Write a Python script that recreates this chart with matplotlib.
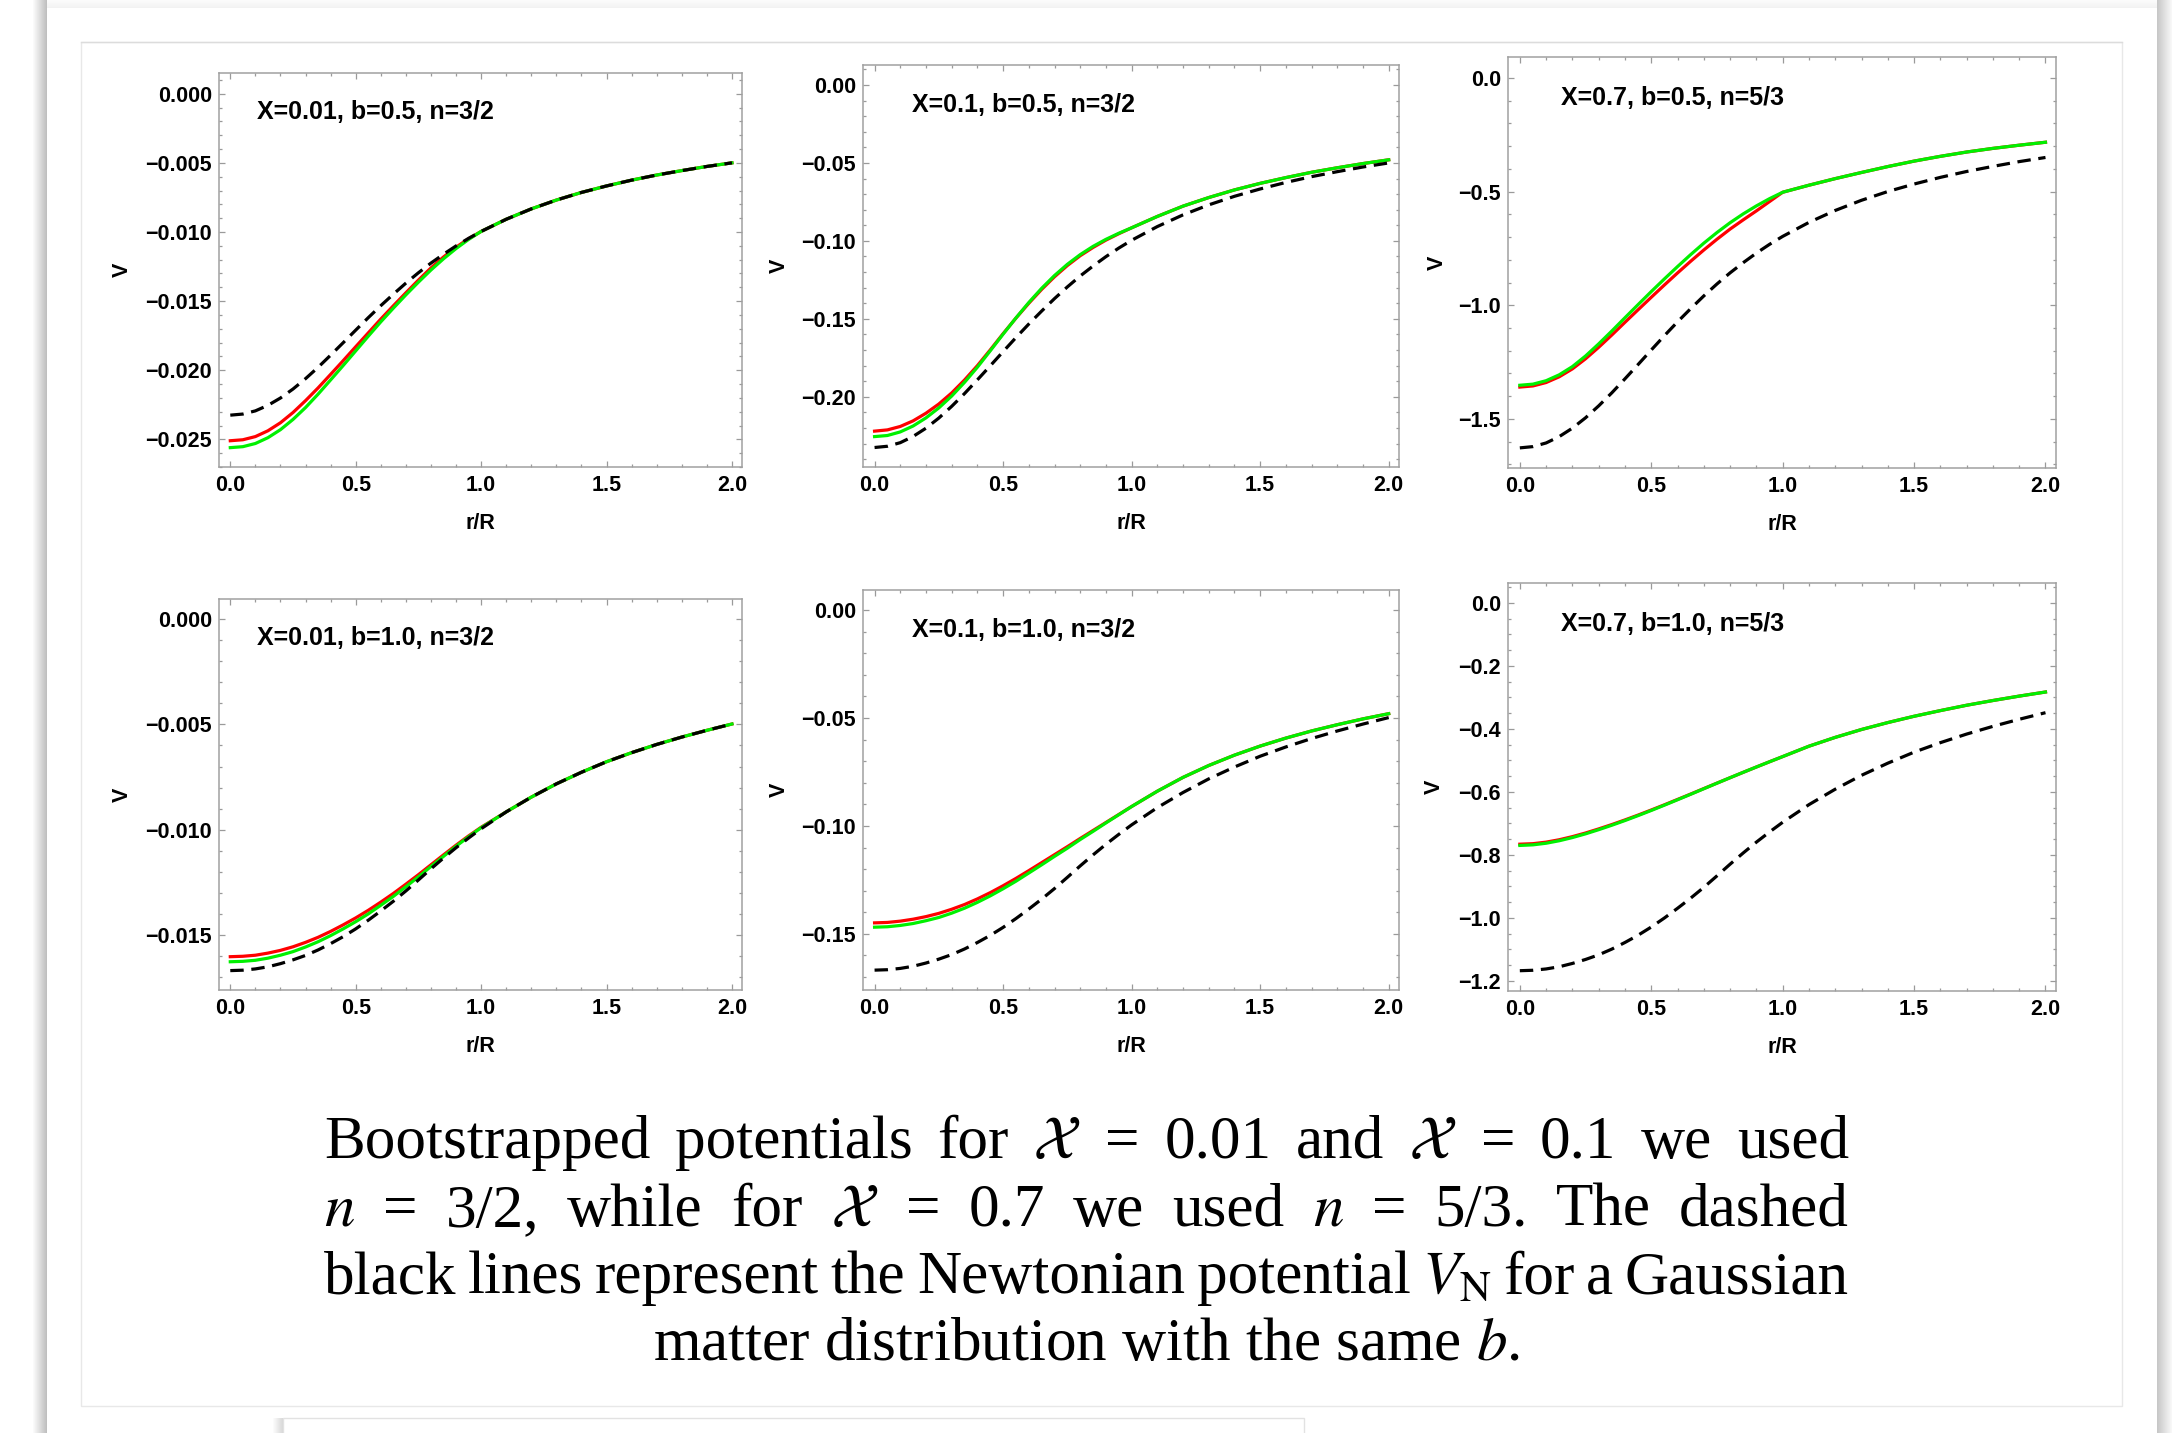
import matplotlib
matplotlib.use("Agg")
import matplotlib.pyplot as plt
from matplotlib.patches import Rectangle
from matplotlib.ticker import MultipleLocator

plt.rcParams['font.family'] = ['Liberation Sans', 'DejaVu Sans']
plt.rcParams['mathtext.fontset'] = 'stix'

W, H = 2172, 1433

# radial coordinate r/R (finer inside the source)
r_vals = [0.0, 0.05, 0.1, 0.15, 0.2, 0.25, 0.3, 0.35, 0.4, 0.45, 0.5,
          0.55, 0.6, 0.65, 0.7, 0.75, 0.8, 0.85, 0.9, 0.95, 1.0,
          1.1, 1.2, 1.3, 1.4, 1.5, 1.6, 1.7, 1.8, 1.9, 2.0]

# X=0.01, b=0.5, n=3/2
red_a = [-0.0251, -0.02503, -0.0248, -0.02438, -0.0238, -0.02306, -0.0222, -0.02128, -0.0203, -0.01931, -0.0183,
         -0.01730, -0.0163, -0.01534, -0.0144, -0.01348, -0.0126, -0.01181, -0.0111, -0.01049, -0.00996,
         -0.00908, -0.00833, -0.00769, -0.00714, -0.00667, -0.00625, -0.00588, -0.00556, -0.00526, -0.00500]
green_a = [-0.0256, -0.02553, -0.0253, -0.02488, -0.0243, -0.02356, -0.0227, -0.02173, -0.0207, -0.01966, -0.0186,
           -0.01754, -0.0165, -0.01551, -0.01455, -0.01363, -0.01275, -0.01194, -0.0112, -0.01054, -0.00996,
           -0.00908, -0.00833, -0.00769, -0.00714, -0.00667, -0.00625, -0.00588, -0.00556, -0.00526, -0.00500]
newton_a = [-0.02325, -0.02317, -0.02294, -0.02254, -0.02201, -0.02136, -0.02061, -0.01979, -0.01891, -0.01801, -0.01710,
            -0.01620, -0.01533, -0.01450, -0.01370, -0.01295, -0.01225, -0.01161, -0.01101, -0.01046, -0.00996,
            -0.00908, -0.00833, -0.00769, -0.00714, -0.00667, -0.00625, -0.00588, -0.00556, -0.00526, -0.00500]

# X=0.1, b=0.5, n=3/2
red_b = [-0.2220, -0.2212, -0.2190, -0.2154, -0.2105, -0.2046, -0.1975, -0.1892, -0.1800, -0.1699, -0.1595,
         -0.1495, -0.1400, -0.1311, -0.1230, -0.1158, -0.1095, -0.1042, -0.0995, -0.0954, -0.0916,
         -0.0843, -0.0777, -0.0722, -0.0673, -0.0631, -0.0594, -0.0560, -0.0531, -0.0504, -0.0480]
green_b = [-0.2255, -0.2248, -0.2225, -0.2187, -0.2135, -0.2071, -0.1995, -0.1907, -0.1810, -0.1705, -0.1598,
           -0.1494, -0.1395, -0.1304, -0.1222, -0.1150, -0.1088, -0.1035, -0.0990, -0.0951, -0.0916,
           -0.0843, -0.0777, -0.0722, -0.0673, -0.0631, -0.0594, -0.0560, -0.0531, -0.0504, -0.0480]
newton_b = [-0.2325, -0.2317, -0.2294, -0.2254, -0.2201, -0.2136, -0.2061, -0.1979, -0.1891, -0.1801, -0.1710,
            -0.1620, -0.1533, -0.1450, -0.1370, -0.1295, -0.1225, -0.1161, -0.1101, -0.1046, -0.0996,
            -0.0908, -0.0833, -0.0769, -0.0714, -0.0667, -0.0625, -0.0588, -0.0556, -0.0526, -0.0500]

# X=0.7, b=0.5, n=5/3
red_c = [-1.360, -1.355, -1.340, -1.3147, -1.280, -1.2356, -1.185, -1.1309, -1.075, -1.0198, -0.965,
         -0.9109, -0.858, -0.8066, -0.757, -0.7097, -0.665, -0.6244, -0.585, -0.544, -0.503,
         -0.472, -0.443, -0.416, -0.390, -0.366, -0.345, -0.326, -0.310, -0.296, -0.283]
green_c = [-1.352, -1.3471, -1.332, -1.306, -1.270, -1.2233, -1.170, -1.1134, -1.055, -0.9972, -0.940,
           -0.8843, -0.830, -0.7773, -0.727, -0.6802, -0.637, -0.5981, -0.563, -0.5312, -0.503,
           -0.472, -0.443, -0.416, -0.390, -0.366, -0.345, -0.326, -0.310, -0.296, -0.283]
newton_c = [-1.6275, -1.6219, -1.6058, -1.5778, -1.5407, -1.4952, -1.4427, -1.3853, -1.3237, -1.2607, -1.1970,
            -1.1340, -1.0731, -1.0150, -0.9590, -0.9065, -0.8575, -0.8127, -0.7707, -0.7322, -0.6972,
            -0.6356, -0.5831, -0.5383, -0.4998, -0.4669, -0.4375, -0.4116, -0.3892, -0.3682, -0.3500]

# X=0.01, b=1.0, n=3/2
red_d = [-0.01602, -0.01600, -0.01595, -0.01585, -0.01572, -0.01555, -0.01534, -0.01510, -0.01482, -0.01451, -0.01418,
         -0.01382, -0.01343, -0.01302, -0.01258, -0.01213, -0.01166, -0.01119, -0.01073, -0.01029, -0.00988,
         -0.00915, -0.00845, -0.00782, -0.00727, -0.00677, -0.00634, -0.00595, -0.00560, -0.00528, -0.00498]
green_d = [-0.01626, -0.01624, -0.01619, -0.01609, -0.01595, -0.01578, -0.01556, -0.01531, -0.01502, -0.01470, -0.01436,
           -0.01399, -0.01358, -0.01316, -0.01270, -0.01223, -0.01174, -0.01126, -0.01078, -0.01033, -0.00990,
           -0.00915, -0.00845, -0.00782, -0.00727, -0.00677, -0.00634, -0.00595, -0.00560, -0.00528, -0.00498]
newton_d = [-0.01668, -0.01666, -0.01660, -0.01650, -0.01635, -0.01617, -0.01596, -0.01570, -0.01540, -0.01507, -0.01470,
            -0.01429, -0.01385, -0.01339, -0.01290, -0.01238, -0.01185, -0.01134, -0.01085, -0.01039, -0.00995,
            -0.00915, -0.00845, -0.00782, -0.00727, -0.00677, -0.00634, -0.00595, -0.00560, -0.00528, -0.00498]

# X=0.1, b=1.0, n=3/2
red_e = [-0.1449, -0.1447, -0.1441, -0.1432, -0.1420, -0.1405, -0.1386, -0.1364, -0.1338, -0.1309, -0.1277,
         -0.1243, -0.1207, -0.1170, -0.1133, -0.1096, -0.1058, -0.1021, -0.0984, -0.0947, -0.0910,
         -0.0839, -0.0775, -0.0720, -0.0672, -0.0630, -0.0593, -0.0560, -0.0531, -0.0504, -0.0480]
green_e = [-0.1469, -0.1467, -0.1461, -0.1452, -0.1439, -0.1424, -0.1404, -0.1381, -0.1354, -0.1324, -0.1291,
           -0.1256, -0.1218, -0.1180, -0.1141, -0.1103, -0.1063, -0.1025, -0.0986, -0.0948, -0.0910,
           -0.0839, -0.0775, -0.0720, -0.0672, -0.0630, -0.0593, -0.0560, -0.0531, -0.0504, -0.0480]
newton_e = [-0.1668, -0.1666, -0.1660, -0.1650, -0.1635, -0.1617, -0.1596, -0.1570, -0.1540, -0.1507, -0.1470,
            -0.1429, -0.1385, -0.1339, -0.1290, -0.1238, -0.1185, -0.1134, -0.1085, -0.1039, -0.0995,
            -0.0915, -0.0845, -0.0782, -0.0727, -0.0677, -0.0634, -0.0595, -0.0560, -0.0528, -0.0498]

# X=0.7, b=1.0, n=5/3
red_f = [-0.766, -0.7644, -0.7595, -0.7519, -0.742, -0.7305, -0.7175, -0.7037, -0.689, -0.6736, -0.6575,
         -0.6410, -0.624, -0.6069, -0.5895, -0.5722, -0.555, -0.5379, -0.521, -0.5044, -0.488,
         -0.455, -0.427, -0.402, -0.380, -0.360, -0.342, -0.325, -0.310, -0.296, -0.283]
green_f = [-0.770, -0.7681, -0.763, -0.7551, -0.745, -0.7332, -0.720, -0.7059, -0.691, -0.6753, -0.659,
           -0.6422, -0.625, -0.6076, -0.590, -0.5724, -0.555, -0.5379, -0.521, -0.5044, -0.488,
           -0.455, -0.427, -0.402, -0.380, -0.360, -0.342, -0.325, -0.310, -0.296, -0.283]
newton_f = [-1.1676, -1.1662, -1.1620, -1.1550, -1.1445, -1.1319, -1.1172, -1.0990, -1.0780, -1.0549, -1.0290,
            -1.0003, -0.9695, -0.9373, -0.9030, -0.8666, -0.8295, -0.7938, -0.7595, -0.7273, -0.6965,
            -0.6405, -0.5915, -0.5474, -0.5089, -0.4739, -0.4438, -0.4165, -0.3920, -0.3696, -0.3486]

panel_labels = ["X=0.01, b=0.5, n=3/2", "X=0.1, b=0.5, n=3/2", "X=0.7, b=0.5, n=5/3",
                "X=0.01, b=1.0, n=3/2", "X=0.1, b=1.0, n=3/2", "X=0.7, b=1.0, n=5/3"]
x_ticks = [0.0, 0.5, 1.0, 1.5, 2.0]
y_ticks = [[0.0, -0.005, -0.010, -0.015, -0.020, -0.025],
           [0.0, -0.05, -0.10, -0.15, -0.20],
           [0.0, -0.5, -1.0, -1.5],
           [0.0, -0.005, -0.010, -0.015],
           [0.0, -0.05, -0.10, -0.15],
           [0.0, -0.2, -0.4, -0.6, -0.8, -1.0, -1.2]]
y_fmt = ['%.3f', '%.2f', '%.1f', '%.3f', '%.2f', '%.1f']
y_minor = [0.001, 0.01, 0.1, 0.001, 0.01, 0.05]
y_lims = [(-0.0270, 0.0015), (-0.245, 0.0128), (-1.716, 0.092),
          (-0.0176, 0.00095), (-0.176, 0.0093), (-1.232, 0.063)]

series = [(red_a, green_a, newton_a), (red_b, green_b, newton_b), (red_c, green_c, newton_c),
          (red_d, green_d, newton_d), (red_e, green_e, newton_e), (red_f, green_f, newton_f)]

# axes boxes in pixels: left, right, top, bottom
boxes = [(219, 742, 73, 467), (863, 1399, 65, 467), (1508, 2056, 57, 468),
         (219, 742, 599, 990), (863, 1399, 590, 990), (1508, 2056, 583, 991)]
vlabel_x = [122, 779, 1437, 122, 779, 1434]

fig = plt.figure(figsize=(W / 100, H / 100), dpi=100)
fig.patch.set_facecolor('white')

# page background / card
bg = fig.add_axes([0, 0, 1, 1], zorder=-10)
bg.set_xlim(0, W)
bg.set_ylim(H, 0)
bg.axis('off')


def gray_strip(x0, x1, y0, y1, g_start, g_end, vertical=False):
    n = int(abs(x1 - x0)) if not vertical else int(abs(y1 - y0))
    for i in range(n):
        g = g_start + (g_end - g_start) * i / max(n - 1, 1)
        if vertical:
            bg.add_patch(Rectangle((x0, y0 + i), x1 - x0, 1, color=(g, g, g), lw=0))
        else:
            bg.add_patch(Rectangle((x0 + i, y0), 1, y1 - y0, color=(g, g, g), lw=0))


gray_strip(47, 2157, 0, 8, 0.985, 0.95, vertical=True)
gray_strip(32, 47, 0, H, 1.0, 0.75)
gray_strip(2157, 2172, 0, H, 0.78, 0.97)
bg.add_patch(Rectangle((81, 42), 2122 - 81, 1406 - 42, fill=False, ec='#e8e8e8', lw=1))
bg.plot([81, 2122], [42, 42], color='#dcdcdc', lw=1)
gray_strip(272, 283, 1418, H, 1.0, 0.85)
bg.add_patch(Rectangle((283, 1418), 1304 - 283, 40, fc='white', ec='#e2e2e2', lw=1))

for i, (red, green, newton) in enumerate(series):
    l, rgt, t, b = boxes[i]
    ax = fig.add_axes([l / W, 1 - b / H, (rgt - l) / W, (b - t) / H])
    ax.plot(r_vals, red, color='#ff0000', lw=2.3, zorder=2)
    ax.plot(r_vals, green, color='#00f000', lw=2.3, zorder=3)
    ax.plot(r_vals, newton, color='black', lw=2.3, dashes=(4.2, 2.4), zorder=4)
    ax.set_xlim(-0.045, 2.04)
    ax.set_ylim(*y_lims[i])
    ax.set_xticks(x_ticks, ['%.1f' % v for v in x_ticks], fontweight='bold', fontsize=15.5)
    ax.set_yticks(y_ticks[i], [(y_fmt[i] % v).replace('-', '\u2212') if v != 0 else y_fmt[i] % 0 for v in y_ticks[i]],
                  fontweight='bold', fontsize=15.5)
    ax.xaxis.set_minor_locator(MultipleLocator(0.1))
    ax.yaxis.set_minor_locator(MultipleLocator(y_minor[i]))
    ax.tick_params(which='both', direction='in', top=True, right=True, color='#9a9a9a', width=0.9)
    ax.tick_params(which='major', length=4.5)
    ax.tick_params(which='minor', length=2.5)
    ax.tick_params(axis='x', pad=6)
    ax.tick_params(axis='y', pad=5)
    for sp in ax.spines.values():
        sp.set_color('#a0a0a0')
        sp.set_linewidth(1.1)
    ax.text(0.58, 0.9, panel_labels[i], transform=ax.get_xaxis_transform(),
            ha='center', va='center', fontsize=18, fontweight='bold')
    ax.text((vlabel_x[i] - l) / (rgt - l), 0.5, 'V', rotation=90, transform=ax.transAxes,
            ha='center', va='center', fontsize=15.5, fontweight='bold')
    ax.text(0.5, -62 / (b - t), 'r/R', transform=ax.transAxes,
            ha='center', va='baseline', fontsize=15.5, fontweight='bold')

# caption
cap_size = 44
cap_family = ['Liberation Serif', 'DejaVu Serif']
caption_lines = [
    ["Bootstrapped", "potentials", "for", r"$\mathcal{X}$", "=", "0.01", "and", r"$\mathcal{X}$", "=", "0.1", "we", "used"],
    [r"$n$", "=", "3/2,", "while", "for", r"$\mathcal{X}$", "=", "0.7", "we", "used", r"$n$", "=", "5/3.", "The", "dashed"],
    ["black", "lines", "represent", "the", "Newtonian", "potential", r"$V_{\mathrm{N}}$", "for", "a", "Gaussian"],
]
last_line = r"matter distribution with the same $b$."
baselines = [1158, 1226, 1293, 1360]
x_left, x_right = 324, 1849

rend = fig.canvas.get_renderer()
for words, yb in zip(caption_lines, baselines[:3]):
    objs = [bg.text(0, yb, w, fontsize=cap_size, family=cap_family, va='baseline', ha='left')
            for w in words]
    widths = [o.get_window_extent(renderer=rend).width for o in objs]
    gap = (x_right - x_left - sum(widths)) / (len(objs) - 1)
    x = x_left
    for o, w in zip(objs, widths):
        o.set_x(x)
        x += w + gap
bg.text((x_left + x_right) / 2, baselines[3], last_line, fontsize=cap_size, family=cap_family,
        va='baseline', ha='center')

fig.savefig('out.png', dpi=100, facecolor='white')
